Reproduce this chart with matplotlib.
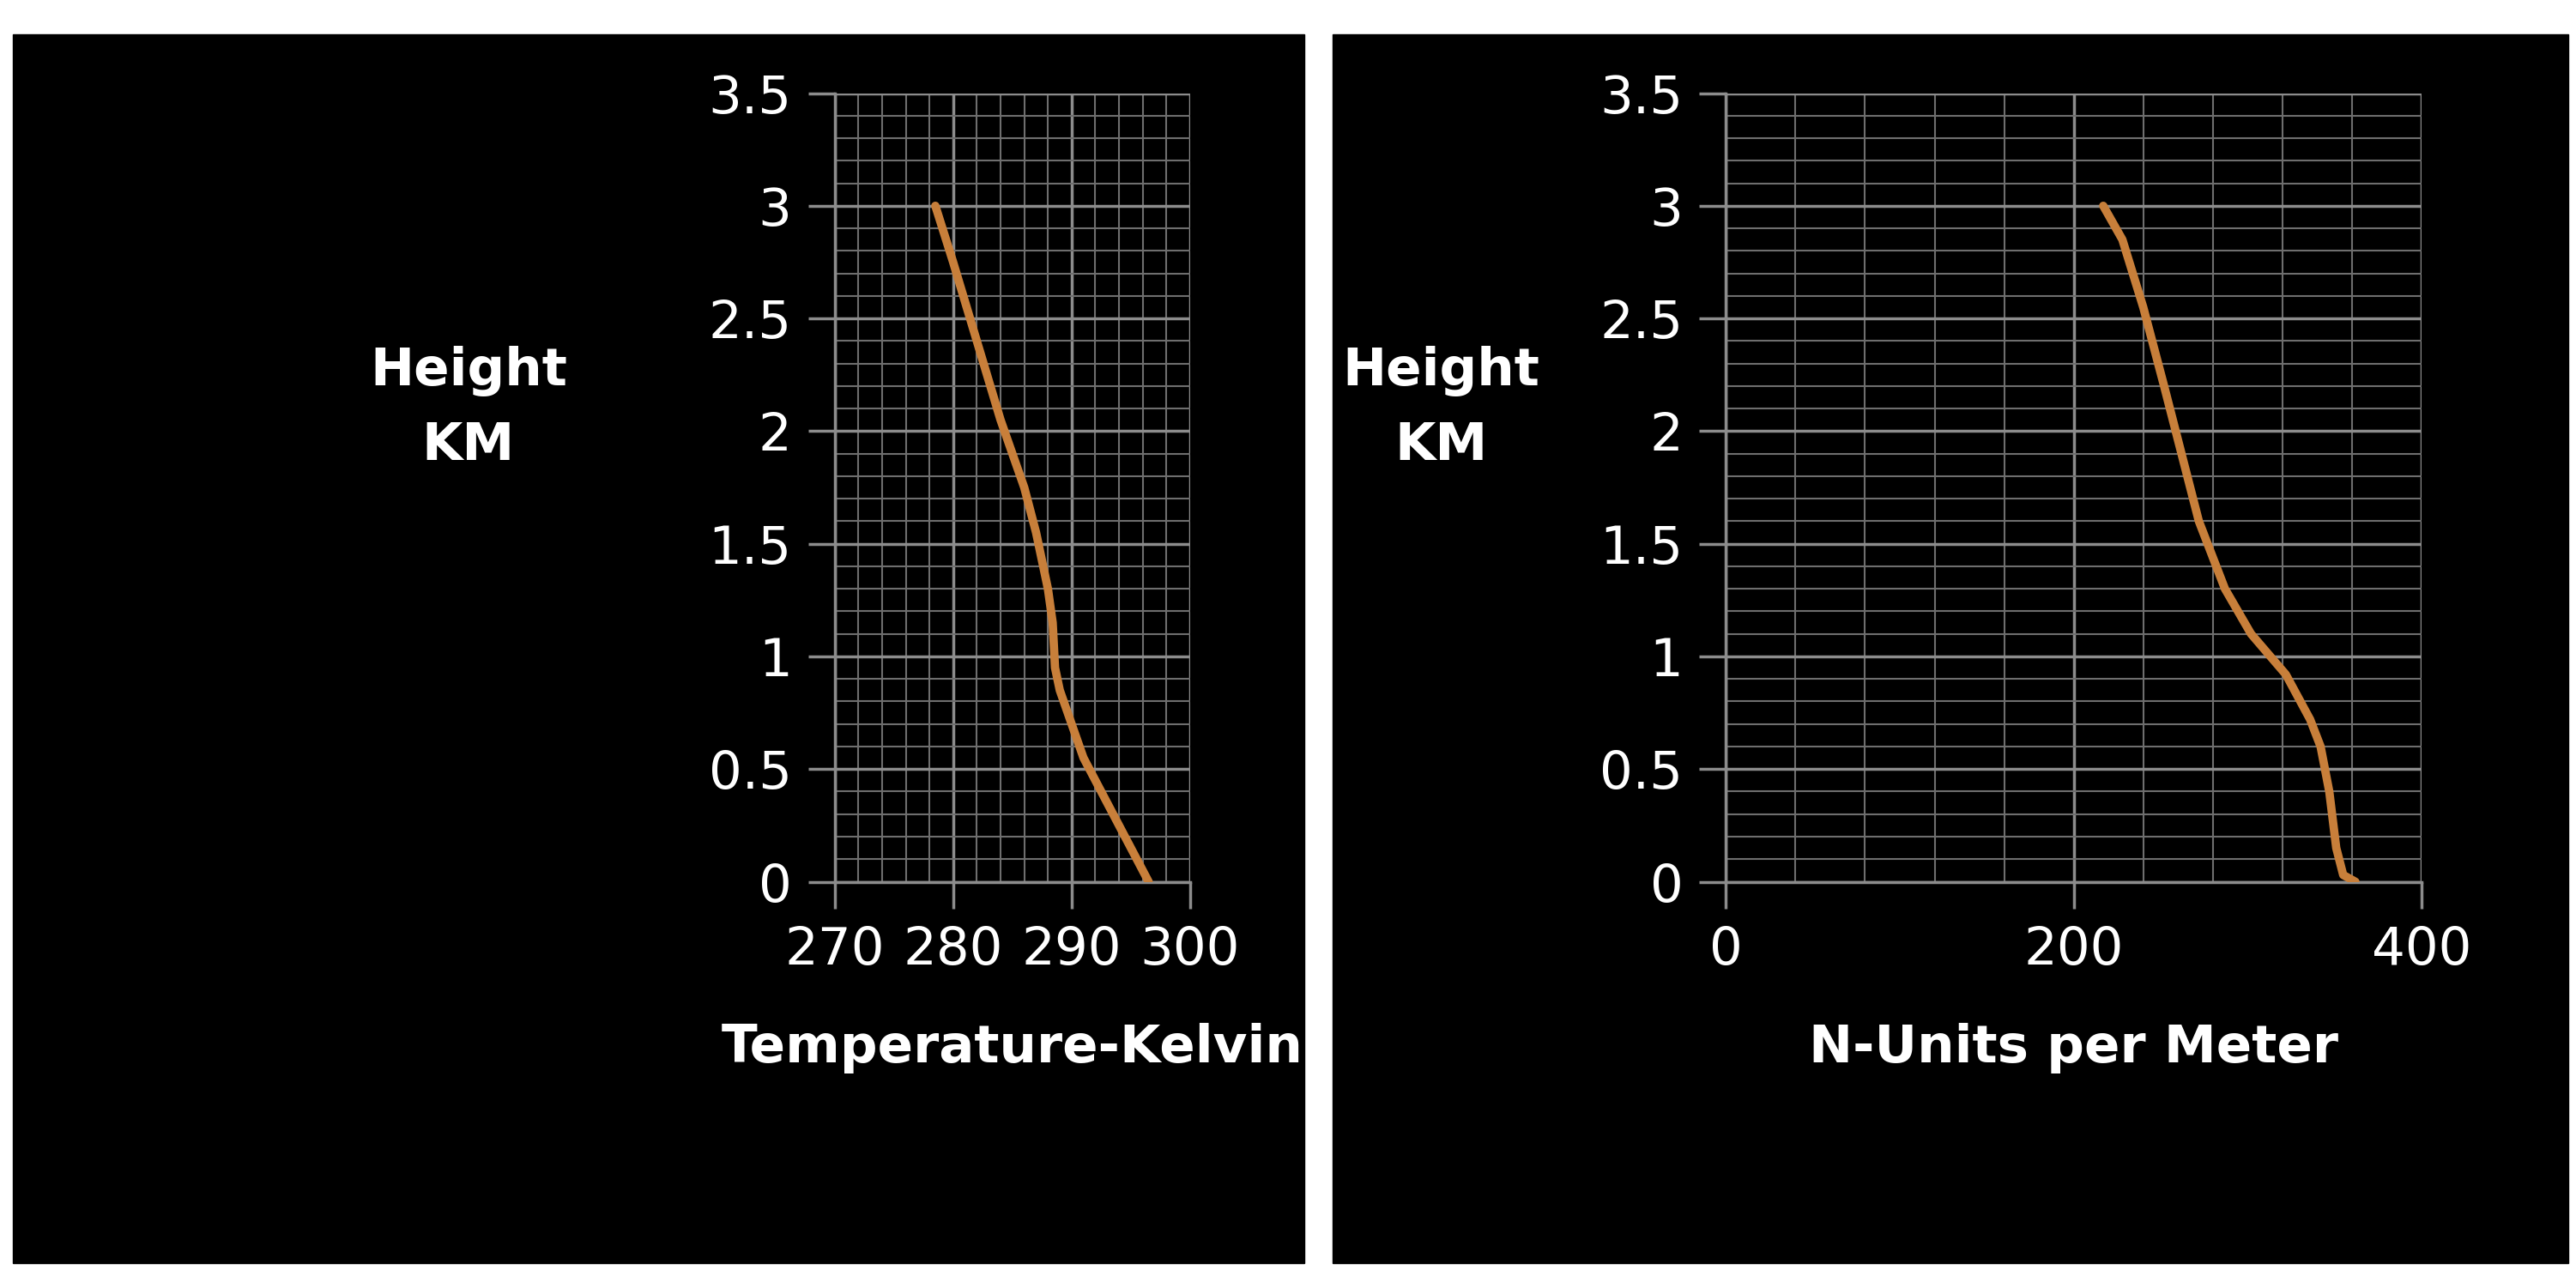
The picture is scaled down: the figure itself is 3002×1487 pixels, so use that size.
import matplotlib
matplotlib.use("Agg")
import matplotlib.pyplot as plt
from matplotlib.patches import Rectangle
from matplotlib.ticker import MultipleLocator

plt.rcParams['font.family'] = ['Liberation Sans Narrow', 'DejaVu Sans']

# left panel: temperature profile
temp_k = [296.5, 295.0, 293.0, 291.0, 290.0, 289.0, 288.6, 288.4, 288.0, 287.0, 286.0, 285.0, 284.0, 282.0, 280.0, 278.5]
temp_h = [0.0, 0.15, 0.35, 0.55, 0.7, 0.85, 0.95, 1.15, 1.3, 1.55, 1.75, 1.9, 2.05, 2.4, 2.75, 3.0]

# right panel: refractivity profile
n_units = [362, 355, 351, 347, 342, 336, 322, 302, 287, 272, 262, 252, 240, 228, 217]
n_h = [0.0, 0.03, 0.15, 0.4, 0.6, 0.72, 0.92, 1.1, 1.3, 1.6, 1.9, 2.2, 2.55, 2.85, 3.0]

fig = plt.figure(figsize=(30.02, 14.87), dpi=100)
fig.patch.set_facecolor('white')
fig.patches.append(Rectangle((15/3002, 15/1487), 1505/3002, 1432/1487, transform=fig.transFigure, color='black', zorder=-5))
fig.patches.append(Rectangle((1553/3002, 15/1487), 1440/3002, 1432/1487, transform=fig.transFigure, color='black', zorder=-5))

line_color = '#c87f3a'


def setup(ax, x, y, xlim, xmaj, xmin, xlabel, label_x):
    ax.set_facecolor('black')
    ax.plot(x, y, color=line_color, lw=7, solid_capstyle='round', zorder=3)
    ax.set_xlim(*xlim)
    ax.set_ylim(0, 3.5)
    ax.xaxis.set_major_locator(MultipleLocator(xmaj))
    ax.xaxis.set_minor_locator(MultipleLocator(xmin))
    ax.yaxis.set_major_locator(MultipleLocator(0.5))
    ax.yaxis.set_minor_locator(MultipleLocator(0.1))
    ax.yaxis.set_major_formatter(plt.FuncFormatter(lambda v, p: f"{v:g}"))
    ax.grid(which='major', color='#8c8c8c', lw=2.5)
    ax.grid(which='minor', color='#6e6e6e', lw=1.5)
    for s in ['top', 'right']:
        ax.spines[s].set_visible(False)
    for s in ['left', 'bottom']:
        ax.spines[s].set_color('#8c8c8c')
        ax.spines[s].set_linewidth(2.5)
    ax.tick_params(which='major', colors='#8c8c8c', length=22, width=2.5,
                   labelcolor='white', labelsize=44, pad=14)
    ax.tick_params(which='minor', length=0)
    ax.set_xlabel(xlabel, color='white', fontsize=44, fontweight='bold', labelpad=40)
    ax.text(label_x, 0.6, "Height\nKM", transform=ax.transAxes, color='white',
            fontsize=44, fontweight='bold', ha='center', va='center', linespacing=1.6)


ax1 = fig.add_axes([0.324, 0.309, 0.138, 0.618])
setup(ax1, temp_k, temp_h, (270, 300), 10, 2, "Temperature-Kelvin", -1.03)
ax2 = fig.add_axes([0.670, 0.309, 0.270, 0.618])
setup(ax2, n_units, n_h, (0, 400), 200, 40, "N-Units per Meter", -0.41)

fig.savefig("out.png", dpi=100, facecolor=fig.get_facecolor())
